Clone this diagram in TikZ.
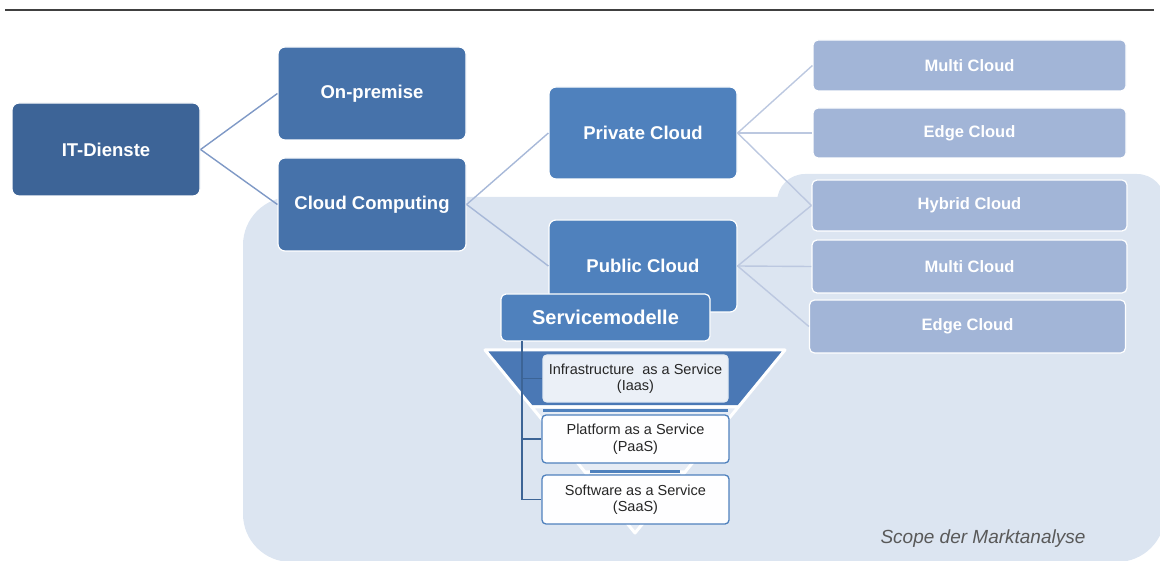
\documentclass[tikz,border=0pt]{standalone}
\usepackage{fontspec}
\setmainfont{Liberation Sans}
\definecolor{itblue}{HTML}{3D6497}
\definecolor{lvlblue}{HTML}{4672AA}
\definecolor{accblue}{HTML}{4F81BD}
\definecolor{lightbox}{HTML}{A2B5D7}
\definecolor{scopebg}{HTML}{DCE5F1}
\definecolor{connA}{HTML}{7F99C6}
\definecolor{connB}{HTML}{A7B8D8}
\definecolor{connC}{HTML}{BCC8E0}
\definecolor{funnelblue}{HTML}{4A78B5}
\definecolor{funnellight}{HTML}{E6ECF5}
\definecolor{bracketblue}{HTML}{3C6496}
\definecolor{scopetext}{HTML}{595959}
\definecolor{topline}{HTML}{404040}
\tikzset{
  mainbox/.style={rectangle, rounded corners=7pt, draw=white, line width=1.2pt,
    text=white, inner sep=0pt, font=\bfseries\fontsize{18.5}{22}\selectfont},
  subbox/.style={rectangle, rounded corners=5pt, draw=white, line width=1.2pt,
    fill=lightbox, text=white, inner sep=0pt, font=\bfseries\fontsize{16.5}{20}\selectfont},
  svcbox/.style={rectangle, rounded corners=4pt, line width=1.3pt, text=black!85,
    inner sep=0pt, align=center, font=\fontsize{14.5}{16.5}\selectfont},
  connone/.style={draw=connA, line width=1.4pt},
  conntwo/.style={draw=connB, line width=1.4pt},
  connthree/.style={draw=connC, line width=1.4pt},
  bracket/.style={draw=bracketblue, line width=1.8pt},
  seg/.style={draw=white, line width=3pt, line join=round}
}
\begin{document}
\begin{tikzpicture}[x=1pt,y=-1pt]
\useasboundingbox (0,0) rectangle (1160,561);
\clip (0,0) rectangle (1160,561);
% top rule
\draw[topline, line width=2.2pt] (5,10) -- (1154,10);
% scope region
\fill[scopebg, rounded corners=48pt] (243,197) rectangle (1165,562);
\fill[scopebg, rounded corners=28pt] (777,174) rectangle (1165,420);
\node[font=\itshape\fontsize{19}{22}\selectfont, text=scopetext] (scope) at (983,539) {Scope der Marktanalyse};
% main nodes
\node[mainbox, fill=itblue, minimum width=188pt, minimum height=93pt] (it) at (106,149.5) {IT-Dienste};
\node[mainbox, fill=lvlblue, minimum width=188pt, minimum height=93pt] (onprem) at (372,93.5) {On-premise};
\node[mainbox, fill=lvlblue, minimum width=188pt, minimum height=93pt] (cc) at (372,204.5) {Cloud Computing};
\node[mainbox, fill=accblue, minimum width=188pt, minimum height=92pt] (priv) at (643,133) {Private\ Cloud};
\node[mainbox, fill=accblue, minimum width=188pt, minimum height=92pt] (pub) at (643,266) {Public\ Cloud};
% right nodes
\node[subbox, minimum width=313pt, minimum height=51pt] (mc1) at (969.5,65.5) {Multi Cloud};
\node[subbox, minimum width=313pt, minimum height=50pt] (ec1) at (969.5,133) {Edge Cloud};
\node[subbox, minimum width=315pt, minimum height=51pt] (hc) at (969.5,205.5) {Hybrid Cloud};
\node[subbox, minimum width=315pt, minimum height=53pt] (mc2) at (969.5,266.5) {Multi Cloud};
\node[subbox, minimum width=316pt, minimum height=53pt] (ec2) at (967.5,326.5) {Edge Cloud};
% connectors
\draw[connone] (it.east) -- (onprem.west);
\draw[connone] (it.east) -- (cc.west);
\draw[conntwo] (cc.east) -- (priv.west);
\draw[conntwo] (cc.east) -- (pub.west);
\draw[connthree] (priv.east) -- (mc1.west);
\draw[connthree] (priv.east) -- (ec1.west);
\draw[connthree] (priv.east) -- (hc.west);
\draw[connthree] (pub.east) -- (hc.west);
\draw[connthree] (pub.east) -- (mc2.west);
\draw[connthree] (pub.east) -- (ec2.west);
% Servicemodelle
\node[mainbox, fill=accblue, rounded corners=5pt, minimum width=209pt, minimum height=47pt,
  font=\bfseries\fontsize{20}{24}\selectfont] (sm) at (605.5,317.5) {Servicemodelle};
% funnel
\filldraw[seg, fill=funnelblue] (485,350) -- (785,350) -- (738.3,407) -- (531.7,407) -- cycle;
\filldraw[seg, fill=funnellight] (531.7,407) -- (738.3,407) -- (685,472) -- (585,472) -- cycle;
\filldraw[seg, fill=funnellight] (585,472) -- (685,472) -- (635,533) -- cycle;
\draw[accblue, line width=3pt] (543,410.5) -- (728,410.5);
\draw[accblue, line width=2.5pt] (590,471.5) -- (680,471.5);
% service boxes
\node[svcbox, fill=funnellight!80!white, draw=funnellight!70!accblue!40, minimum width=185pt, minimum height=47pt] (iaas) at (635.5,378.5) {Infrastructure\ \ as a Service\\(Iaas)};
\node[svcbox, fill=white!95!funnellight, draw=accblue, minimum width=187pt, minimum height=48pt] (paas) at (635.5,439) {Platform as a Service\\(PaaS)};
\node[svcbox, fill=white!95!funnellight, draw=accblue, minimum width=187pt, minimum height=49pt] (saas) at (635.5,499.5) {Software as a Service\\(SaaS)};
% bracket
\coordinate (bt) at (522,341);
\draw[bracket] (bt) |- (saas.west);
\draw[bracket] (bt |- paas.west) -- (paas.west);
\draw[bracket] (bt |- iaas.west) -- (iaas.west);
\end{tikzpicture}
\end{document}
